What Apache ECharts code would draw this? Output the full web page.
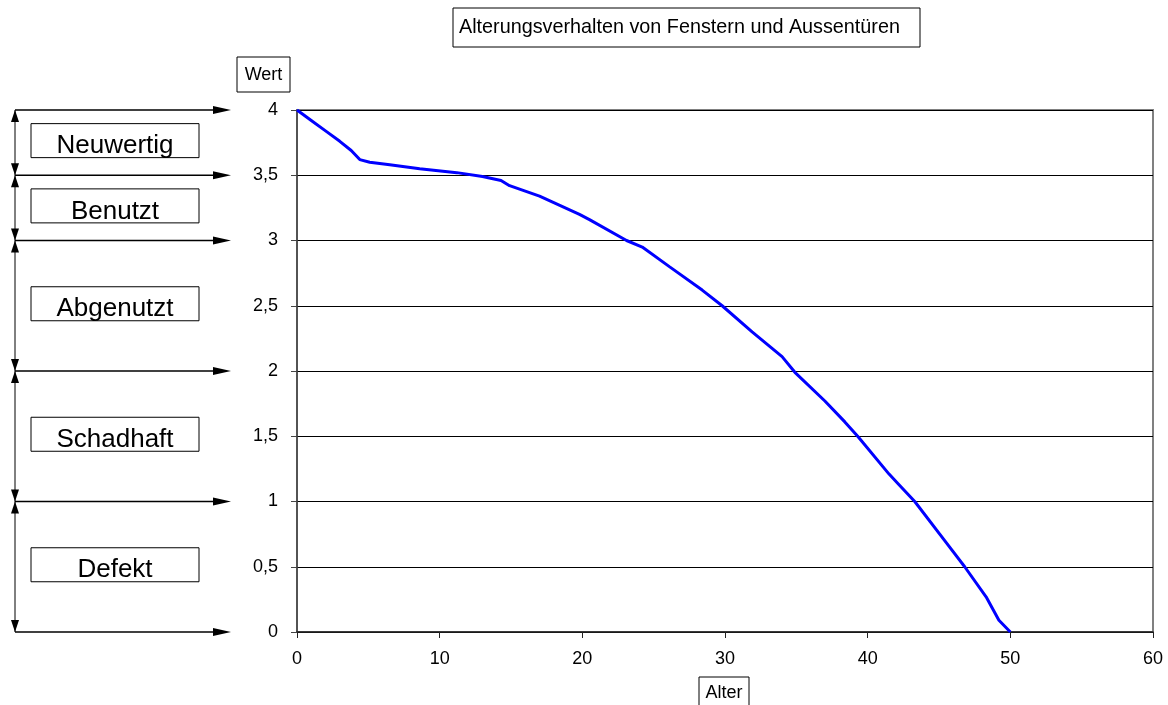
<!DOCTYPE html>
<html>
<head>
<meta charset="utf-8">
<script src="https://cdn.jsdelivr.net/npm/echarts@6/dist/echarts.min.js"></script>
<style>html,body{margin:0;padding:0;background:#fff;}#c{width:1168px;height:705px;}</style>
</head>
<body>
<div id="c"></div>
<script>
var titleText = 'Alterungsverhalten von Fenstern und Aussentüren';
var yName = 'Wert';
var xName = 'Alter';
var ages = [0, 1, 2, 3, 3.8, 4.4, 5.1, 6.5, 8.6, 11.2, 13.0, 14.3, 14.9, 17.0, 19.8, 20.5, 23.1, 24.2, 26.1, 28.4, 29.8, 31.9, 34.0, 34.9, 37.0, 38.4, 39.3, 41.5, 42.1, 43.3, 45.4, 46.8, 48.3, 49.2, 50];
var values = [4, 3.92, 3.84, 3.76, 3.69, 3.62, 3.60, 3.58, 3.55, 3.52, 3.49, 3.46, 3.42, 3.34, 3.2, 3.16, 3.0, 2.95, 2.8, 2.62, 2.5, 2.3, 2.11, 1.99, 1.77, 1.61, 1.5, 1.21, 1.14, 1.0, 0.70, 0.5, 0.27, 0.09, 0];
var boundaries = [4, 3.5, 3, 2, 1, 0];
var stateLabels = ['Neuwertig', 'Benutzt', 'Abgenutzt', 'Schadhaft', 'Defekt'];

var FONT = 'Liberation Sans, Arial, sans-serif';
var chart = echarts.init(document.getElementById('c'));
var seriesData = ages.map(function (a, i) { return [a, values[i]]; });

chart.setOption({
  animation: false,
  backgroundColor: '#fff',
  grid: { left: 297, right: 15, top: 110, bottom: 73, show: true, borderColor: '#808080', borderWidth: 2, backgroundColor: 'transparent' },
  xAxis: {
    type: 'value', min: 0, max: 60, interval: 10,
    axisLine: { show: true, lineStyle: { color: '#222', width: 1.5 } },
    axisTick: { show: true, length: 6, lineStyle: { color: '#222' } },
    axisLabel: { color: '#000', fontSize: 18, fontFamily: FONT, margin: 18 },
    splitLine: { show: false }
  },
  yAxis: {
    type: 'value', min: 0, max: 4, interval: 0.5,
    axisLine: { show: true, lineStyle: { color: '#444', width: 1.5 } },
    axisTick: { show: true, length: 6, lineStyle: { color: '#444' } },
    axisLabel: { color: '#000', fontSize: 18, fontFamily: FONT, margin: 19,
      formatter: function (v) { return String(v).replace('.', ','); } },
    splitLine: { show: true, lineStyle: { color: '#000', width: 1 } }
  },
  series: [{
    type: 'line', data: seriesData, showSymbol: false, smooth: false,
    lineStyle: { color: '#0000ff', width: 3 }, z: 5
  }]
});

function py(v) { return chart.convertToPixel({ yAxisIndex: 0 }, v); }

var g = [];
g.push({ type: 'rect', shape: { x: 453, y: 8, width: 467, height: 39 }, style: { fill: '#fff', stroke: '#000', lineWidth: 1 } });
g.push({ type: 'text', x: 459, y: 28, style: { text: titleText, font: '19.8px ' + FONT, fill: '#000', textVerticalAlign: 'middle', textAlign: 'left' } });
g.push({ type: 'rect', shape: { x: 237, y: 57, width: 53, height: 35 }, style: { fill: '#fff', stroke: '#000', lineWidth: 1 } });
g.push({ type: 'text', x: 263.5, y: 75, style: { text: yName, font: '18px ' + FONT, fill: '#000', textVerticalAlign: 'middle', textAlign: 'center' } });
g.push({ type: 'rect', shape: { x: 699, y: 677, width: 50, height: 40 }, style: { fill: '#fff', stroke: '#000', lineWidth: 1 } });
g.push({ type: 'text', x: 724, y: 693, style: { text: xName, font: '18px ' + FONT, fill: '#000', textVerticalAlign: 'middle', textAlign: 'center' } });

var ax = 15;
g.push({ type: 'line', shape: { x1: ax, y1: py(boundaries[0]), x2: ax, y2: py(boundaries[boundaries.length - 1]) }, style: { stroke: '#000', lineWidth: 1 } });
boundaries.forEach(function (b) {
  var y = py(b);
  g.push({ type: 'line', shape: { x1: ax, y1: y, x2: 215, y2: y }, style: { stroke: '#000', lineWidth: 1.3 } });
  g.push({ type: 'polygon', shape: { points: [[231, y], [213, y - 4], [213, y + 4]] }, style: { fill: '#000' } });
});
for (var i = 0; i < stateLabels.length; i++) {
  var yt = py(boundaries[i]), yb = py(boundaries[i + 1]);
  g.push({ type: 'polygon', shape: { points: [[ax, yt], [ax - 4, yt + 12], [ax + 4, yt + 12]] }, style: { fill: '#000' } });
  g.push({ type: 'polygon', shape: { points: [[ax, yb], [ax - 4, yb - 12], [ax + 4, yb - 12]] }, style: { fill: '#000' } });
  var yc = (yt + yb) / 2 - 2;
  g.push({ type: 'rect', shape: { x: 31, y: yc - 17, width: 168, height: 34 }, style: { fill: '#fff', stroke: '#000', lineWidth: 1 } });
  g.push({ type: 'text', x: 115, y: yc + 5.5, style: { text: stateLabels[i], font: '26px ' + FONT, fill: '#000', textVerticalAlign: 'middle', textAlign: 'center' } });
}
chart.setOption({ graphic: g });
</script>
</body>
</html>
